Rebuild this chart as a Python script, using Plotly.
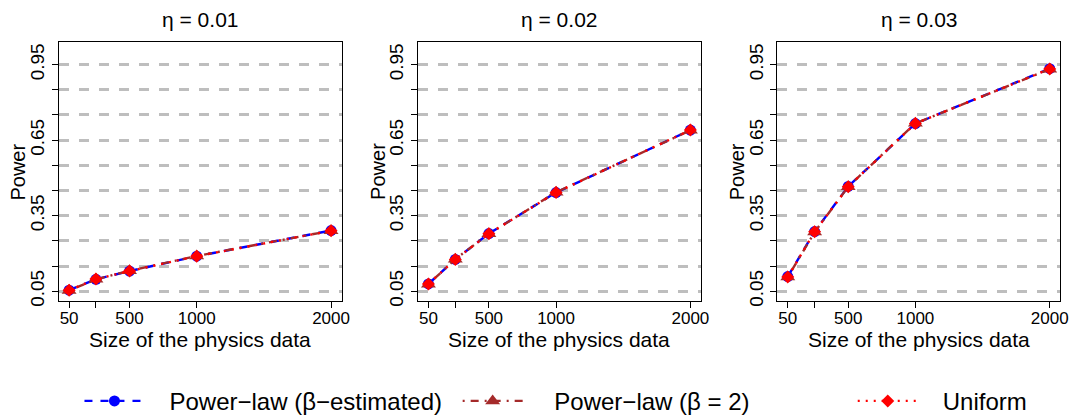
"""
Power vs. size of the physics data, for three values of eta.
Three small panels plus a shared legend along the bottom. Writes out.html.
"""
import plotly.graph_objects as go

W, H = 1086, 419
OFF = 8  # the page body adds 8px of margin; layout positions are given in screen px

SIZES = [50, 250, 500, 1000, 2000]
X_TICKTEXT = ["50", "", "500", "1000", "2000"]
Y_TICKS = [0.05, 0.35, 0.65, 0.95]
ETAS = ["0.01", "0.02", "0.03"]

# power, one list per panel (eta = 0.01, 0.02, 0.03)
EST_POWER = [
    [0.054, 0.097, 0.130, 0.189, 0.291],
    [0.079, 0.176, 0.279, 0.442, 0.690],
    [0.108, 0.287, 0.466, 0.716, 0.934],
]
BETA2_POWER = [
    [0.053, 0.097, 0.131, 0.190, 0.290],
    [0.078, 0.177, 0.278, 0.443, 0.689],
    [0.106, 0.285, 0.465, 0.717, 0.932],
]
UNIF_POWER = [
    [0.054, 0.098, 0.130, 0.189, 0.290],
    [0.079, 0.176, 0.278, 0.442, 0.690],
    [0.106, 0.286, 0.465, 0.716, 0.933],
]

BLUE = "#0000FF"
BROWN = "#A52A2A"
RED = "#FF0000"
GRID = "#BEBEBE"
FONT = "Liberation Sans, Arial, Helvetica, sans-serif"

# panel boxes in screen pixels (left, right), shared top/bottom
PANELS = [(59, 344), (421, 706), (783, 1068)]
TOP, BOTTOM = 43, 305


def px_x(v):
    return (v - OFF) / W


def px_y(v):
    return 1 - (v - OFF) / H


NB = "\u00a0"
SERIES = [
    (NB * 3 + "Power\u2212law (\u03b2\u2212estimated)", EST_POWER, BLUE,
     "8px,8px", "circle", 11, "legend"),
    (NB * 4 + "Power\u2212law (\u03b2 = 2)", BETA2_POWER, BROWN,
     "2px,6px,8px,6px", "triangle-up", 13, "legend2"),
    (NB * 3 + "Uniform", UNIF_POWER, RED, "2px,6px", "diamond", 10, "legend3"),
]

fig = go.Figure()

for p in range(3):
    ax = "" if p == 0 else str(p + 1)
    for name, vals, color, dash, symbol, msize, leg in SERIES:
        fig.add_trace(go.Scatter(
            x=SIZES, y=vals[p], name=name, mode="lines+markers",
            xaxis="x" + ax, yaxis="y" + ax,
            line=dict(color=color, width=2.4, dash=dash),
            marker=dict(color=color, symbol=symbol, size=msize, line_width=0),
            legend=leg, showlegend=(p == 0),
        ))

    left, right = PANELS[p]
    fig.update_layout({
        "xaxis" + ax: dict(
            domain=[px_x(left), px_x(right)], anchor="y" + ax,
            range=[-28, 2078], tickvals=SIZES, ticktext=X_TICKTEXT,
            ticks="outside", ticklen=6, tickcolor="black",
            ticklabelstandoff=-4,
            showline=True, mirror=True, linecolor="black", linewidth=1,
            showgrid=False, zeroline=False,
            tickfont=dict(size=17, color="black"),
        ),
        "yaxis" + ax: dict(
            domain=[px_y(BOTTOM), px_y(TOP)], anchor="x" + ax,
            range=[0.012, 1.038], tickvals=Y_TICKS,
            ticktext=[f"{v:.2f}" for v in Y_TICKS], tickangle=-90,
            ticks="outside", ticklen=6, tickcolor="black",
            showline=True, mirror=True, linecolor="black", linewidth=1,
            showgrid=True, gridcolor=GRID, gridwidth=2.5, griddash="10px,10px",
            zeroline=False,
            minor=dict(tick0=0.05, dtick=0.1, ticks="outside", ticklen=6,
                       tickcolor="black", showgrid=True, gridcolor=GRID,
                       gridwidth=2.5, griddash="10px,10px"),
            tickfont=dict(size=19, color="black"),
        ),
    })
    # panel title and axis titles
    fig.add_annotation(
        text=f"\u03b7 = {ETAS[p]}", xref="x" + ax + " domain", yref="paper",
        x=0.5, y=px_y(20), xanchor="center", yanchor="middle",
        showarrow=False, font=dict(size=21, color="black"),
    )
    fig.add_annotation(
        text="Size of the physics data", xref="x" + ax + " domain", yref="paper",
        x=0.5, y=px_y(344), xanchor="center", yanchor="middle",
        showarrow=False, font=dict(size=21, color="black"),
    )
    fig.add_annotation(
        text="Power", xref="paper", yref="paper", textangle=-90,
        x=px_x(left - 41), y=px_y((TOP + BOTTOM) / 2),
        xanchor="center", yanchor="middle",
        showarrow=False, font=dict(size=20, color="black"),
    )

legend_common = dict(
    orientation="h", yanchor="middle", xanchor="left", y=px_y(407),
    bgcolor="rgba(0,0,0,0)", font=dict(size=24, color="black", family=FONT),
    itemwidth=60,
)
fig.update_layout(
    legend=dict(x=px_x(80), **legend_common),
    legend2=dict(x=px_x(461), **legend_common),
    legend3=dict(x=px_x(859), **legend_common),
)

fig.update_layout(
    width=W, height=H,
    margin=dict(l=0, r=0, t=0, b=0),
    plot_bgcolor="white", paper_bgcolor="white",
    font=dict(family=FONT, color="black"),
)

fig.write_html("out.html")
